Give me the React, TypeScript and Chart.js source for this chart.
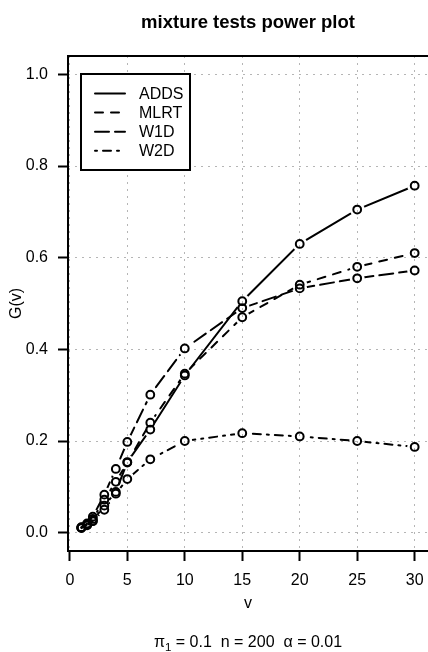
import React, { useEffect, useRef } from "react";
import { Chart, registerables } from "chart.js";

Chart.register(...registerables);

// ---------- data ----------
const vValues = [1, 1.5, 2, 3, 4, 5, 7, 10, 15, 20, 25, 30];
const addsPower = [0.011, 0.017, 0.026, 0.059, 0.089, 0.154, 0.225, 0.343, 0.505, 0.63, 0.705, 0.757];
const mlrtPower = [0.011, 0.018, 0.03, 0.072, 0.111, 0.153, 0.24, 0.347, 0.47, 0.541, 0.58, 0.61];
const w1dPower = [0.012, 0.02, 0.035, 0.083, 0.139, 0.198, 0.301, 0.402, 0.49, 0.533, 0.555, 0.572];
const w2dPower = [0.01, 0.016, 0.025, 0.05, 0.085, 0.117, 0.16, 0.2, 0.217, 0.21, 0.2, 0.187];
const seriesNames = ["ADDS", "MLRT", "W1D", "W2D"];
const xTicks = [0, 5, 10, 15, 20, 25, 30];
const yTicks = [0, 0.2, 0.4, 0.6, 0.8, 1.0];
const titleText = "mixture tests power plot";
const xLabel = "v";
const yLabel = "G(v)";
const subParts = ["\u03C0", "1", " = 0.1  n = 200  \u03B1 = 0.01"];

// ---------- styles ----------
const FONT = "'Liberation Sans', Arial, Helvetica, sans-serif";
const dashes: number[][] = [[], [8, 8], [14, 6], [2, 6, 8, 6]];
const GAP = 7.5;

const seriesValues = [addsPower, mlrtPower, w1dPower, w2dPower];

function toPoints(vals: number[]) {
  return vValues.map((v, i) => ({ x: v, y: vals[i] }));
}

const lineDatasets = seriesValues.map((vals, i) => ({
  label: seriesNames[i],
  data: toPoints(vals),
  isLine: true,
  borderColor: "#000",
  borderWidth: 2,
  borderDash: dashes[i],
  borderCapStyle: "round" as const,
  pointRadius: 0,
  pointHoverRadius: 0,
  fill: false,
  tension: 0,
  order: 1,
}));

const pointDatasets = seriesValues.map((vals, i) => ({
  label: seriesNames[i] + " points",
  data: toPoints(vals),
  showLine: false,
  pointRadius: 3.9,
  pointHoverRadius: 3.9,
  pointBorderWidth: 2,
  pointBorderColor: "#000",
  pointBackgroundColor: "rgba(0,0,0,0)",
  order: 0,
}));

const gapPlugin = {
  id: "gapPlugin",
  beforeDatasetDraw(chart: any, args: any) {
    const ds = chart.data.datasets[args.index];
    if (!ds.isLine) return;
    const ctx = chart.ctx;
    ctx.save();
    ctx.beginPath();
    ctx.rect(0, 0, chart.width, chart.height);
    for (const el of args.meta.data) {
      ctx.moveTo(el.x + GAP, el.y);
      ctx.arc(el.x, el.y, GAP, 0, Math.PI * 2);
    }
    ctx.clip("evenodd");
  },
  afterDatasetDraw(chart: any, args: any) {
    const ds = chart.data.datasets[args.index];
    if (!ds.isLine) return;
    chart.ctx.restore();
  },
};

const decorPlugin = {
  id: "decorPlugin",
  afterDraw(chart: any) {
    const ctx = chart.ctx as CanvasRenderingContext2D;
    const a = chart.chartArea;
    const cx = (a.left + a.right) / 2;
    ctx.save();

    // frame (right side lies beyond the canvas)
    ctx.strokeStyle = "#000";
    ctx.lineWidth = 2;
    ctx.setLineDash([]);
    ctx.beginPath();
    ctx.moveTo(chart.width + 2, a.top);
    ctx.lineTo(a.left, a.top);
    ctx.lineTo(a.left, a.bottom);
    ctx.lineTo(chart.width + 2, a.bottom);
    ctx.stroke();

    ctx.fillStyle = "#000";
    // title
    ctx.font = `bold 18.5px ${FONT}`;
    ctx.textAlign = "center";
    ctx.textBaseline = "alphabetic";
    ctx.fillText(titleText, cx, 28);

    // x label
    ctx.font = `16px ${FONT}`;
    ctx.fillText(xLabel, cx, 608);

    // y label
    ctx.save();
    ctx.translate(17, (a.top + a.bottom) / 2);
    ctx.rotate(-Math.PI / 2);
    ctx.textBaseline = "middle";
    ctx.fillText(yLabel, 0, 0);
    ctx.restore();

    // subtitle
    ctx.textAlign = "left";
    ctx.textBaseline = "alphabetic";
    ctx.font = `16px ${FONT}`;
    const w0 = ctx.measureText(subParts[0]).width;
    const w2 = ctx.measureText(subParts[2]).width;
    ctx.font = `11.5px ${FONT}`;
    const w1 = ctx.measureText(subParts[1]).width;
    let sx = cx - (w0 + w1 + w2) / 2;
    const sy = 647;
    ctx.font = `16px ${FONT}`;
    ctx.fillText(subParts[0], sx, sy);
    sx += w0;
    ctx.font = `11.5px ${FONT}`;
    ctx.fillText(subParts[1], sx, sy + 4);
    sx += w1;
    ctx.font = `16px ${FONT}`;
    ctx.fillText(subParts[2], sx, sy);

    // legend
    const lx = a.left + 13;
    const ly = a.top + 18;
    ctx.fillStyle = "#fff";
    ctx.fillRect(lx, ly, 109, 96);
    ctx.strokeStyle = "#000";
    ctx.lineWidth = 2;
    ctx.strokeRect(lx, ly, 109, 96);
    ctx.lineCap = "round";
    seriesNames.forEach((name, i) => {
      const y = ly + 19.5 + i * 19.1;
      ctx.setLineDash(dashes[i]);
      ctx.beginPath();
      ctx.moveTo(lx + 14, y);
      ctx.lineTo(lx + 44, y);
      ctx.stroke();
      ctx.setLineDash([]);
      ctx.fillStyle = "#000";
      ctx.font = `16px ${FONT}`;
      ctx.textBaseline = "middle";
      ctx.fillText(name, lx + 58, y + 1);
    });
    ctx.restore();
  },
};

const gridCommon = {
  color: "#b5b5b5",
  lineWidth: 1,
  drawTicks: true,
  tickLength: 10,
  tickWidth: 2,
  tickColor: "#000",
  tickBorderDash: [],
};

export default function App() {
  const ref = useRef<HTMLCanvasElement>(null);
  useEffect(() => {
    const canvas = ref.current;
    if (!canvas) return;
    const chart = new Chart(canvas, {
      type: "line",
      data: { datasets: [...pointDatasets, ...lineDatasets] as any },
      options: {
        responsive: false,
        devicePixelRatio: 1,
        animation: false,
        events: [],
        layout: { autoPadding: false, padding: { top: 56, left: 0, right: 0, bottom: 0 } },
        plugins: {
          legend: { display: false },
          tooltip: { enabled: false },
          title: { display: false },
        },
        scales: {
          x: {
            type: "linear",
            position: "bottom",
            min: -0.16,
            max: 31.16,
            afterBuildTicks: (s: any) => {
              s.ticks = xTicks.map((value) => ({ value }));
            },
            afterFit: (s: any) => {
              s.height = 101;
              s.paddingLeft = 0;
              s.paddingRight = 0;
            },
            ticks: {
              color: "#000",
              font: { family: FONT, size: 16 },
              padding: 10,
              maxRotation: 0,
              autoSkip: false,
              callback: (v: any) => String(v),
            },
            grid: gridCommon as any,
            border: { display: false, dash: [2, 5] },
          },
          y: {
            type: "linear",
            position: "left",
            min: -0.04,
            max: 1.04,
            afterBuildTicks: (s: any) => {
              s.ticks = yTicks.map((value) => ({ value }));
            },
            afterFit: (s: any) => {
              s.width = 68;
              s.paddingTop = 0;
              s.paddingBottom = 0;
            },
            ticks: {
              color: "#000",
              font: { family: FONT, size: 16 },
              padding: 10,
              autoSkip: false,
              callback: (v: any) => Number(v).toFixed(1),
            },
            grid: gridCommon as any,
            border: { display: false, dash: [2, 5] },
          },
        },
      },
      plugins: [gapPlugin, decorPlugin],
    });
    return () => chart.destroy();
  }, []);

  return (
    <div style={{ position: "absolute", left: 0, top: 0, width: 428, height: 652, background: "#fff" }}>
      <canvas ref={ref} width={428} height={652} style={{ display: "block", width: 428, height: 652 }} />
    </div>
  );
}
